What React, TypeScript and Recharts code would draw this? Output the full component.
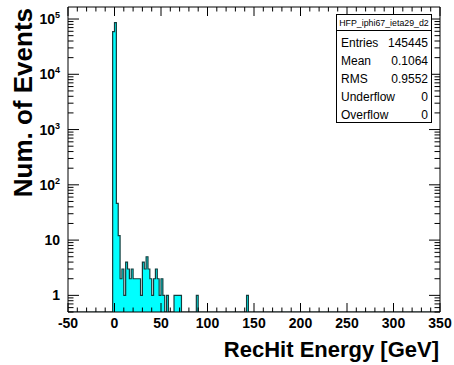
import React from 'react';
import { ComposedChart, Area, XAxis, YAxis } from 'recharts';

// histogram contents: low edge of each non-empty 2 GeV bin and its count
const binLow = [-2, 0, 2, 4, 6, 8, 10, 12, 14, 16, 18, 20, 22, 24, 26, 28, 30, 32, 34, 36, 38, 40, 42, 44, 46, 48, 50, 52, 56, 64, 66, 68, 70, 88, 142];
const counts = [59000, 86000, 46, 12, 2, 3, 1, 4, 3, 2, 3, 2, 2, 2, 2, 1, 4, 3, 5, 3, 2, 1, 2, 3, 2, 1, 2, 1, 1, 1, 1, 1, 1, 1, 1];
const binWidth = 2;
const xMin = -50;
const xMax = 350;
const yFloor = 0.5;
const yTop = 165000;

const xMajor = [-50, 0, 50, 100, 150, 200, 250, 300, 350];
const xMinorStep = 10;
const yDecades = [1, 10, 100, 1000, 10000, 100000];
const yExponents = ['', '', '2', '3', '4', '5'];

const statsTitle = 'HFP_iphi67_ieta29_d2';
const statsNames = ['Entries', 'Mean', 'RMS', 'Underflow', 'Overflow'];
const statsValues = ['145445', '0.1064', '0.9552', '0', '0'];

const font = '"Liberation Sans", Arial, sans-serif';

const histData: { x: number; n: number }[] = [];
for (let e = xMin; e < xMax; e += binWidth) {
  const k = binLow.indexOf(e);
  histData.push({ x: e, n: Math.max(k >= 0 ? counts[k] : 0, yFloor) });
}
histData.push({ x: xMax, n: yFloor });

const xTicks: number[] = [];
for (let v = xMin; v <= xMax; v += xMinorStep) xTicks.push(v);

const yTicks: number[] = [];
[0.1, ...yDecades].forEach((d) => {
  for (let m = 1; m < 10; m++) {
    const v = m * d;
    if (v >= yFloor && v <= yTop) yTicks.push(v);
  }
});

const isDecade = (v: number) => Math.abs(Math.log10(v) - Math.round(Math.log10(v))) < 1e-6;

const XTick = (props: any) => {
  const { x, y, payload, top } = props;
  const major = xMajor.includes(payload.value);
  const len = major ? 9 : 4.5;
  return (
    <g>
      <line x1={x} x2={x} y1={y} y2={top ? y + len : y - len} stroke="#000" />
      {!top && major && (
        <text x={x} y={y + 16} textAnchor="middle" fontFamily={font} fontWeight="bold" fontSize={14} fill="#000">
          {payload.value}
        </text>
      )}
    </g>
  );
};

const YTick = (props: any) => {
  const { x, y, payload, right } = props;
  const major = isDecade(payload.value);
  const len = major ? 11 : 5.5;
  const i = yDecades.indexOf(Math.round(payload.value));
  return (
    <g>
      <line x1={x} x2={right ? x - len : x + len} y1={y} y2={y} stroke="#000" />
      {!right && major && i >= 0 && (
        <text x={x - 8} y={y + 5} textAnchor="end" fontFamily={font} fontWeight="bold" fontSize={14} fill="#000">
          {yExponents[i] ? '10' : String(yDecades[i])}
          {yExponents[i] && (
            <tspan dy={-6} fontSize={9}>
              {yExponents[i]}
            </tspan>
          )}
        </text>
      )}
    </g>
  );
};

export default function App() {
  return (
    <div style={{ position: 'absolute', left: 0, top: 0, width: 454, height: 365, background: '#fff' }}>
      <ComposedChart width={454} height={365} data={histData} margin={{ top: 6, right: 13, bottom: 52, left: 67 }}>
        <XAxis
          dataKey="x"
          type="number"
          domain={[xMin, xMax]}
          ticks={xTicks}
          interval={0}
          height={1}
          tickSize={0}
          tickMargin={0}
          tickLine={false}
          axisLine={{ stroke: '#000' }}
          tick={(p: any) => <XTick {...p} />}
        />
        <XAxis
          xAxisId="t"
          orientation="top"
          dataKey="x"
          type="number"
          domain={[xMin, xMax]}
          ticks={xTicks}
          interval={0}
          height={1}
          tickSize={0}
          tickMargin={0}
          tickLine={false}
          axisLine={{ stroke: '#000' }}
          tick={(p: any) => <XTick {...p} top />}
        />
        <YAxis
          type="number"
          scale="log"
          domain={[yFloor, yTop]}
          allowDataOverflow
          ticks={yTicks}
          interval={0}
          width={1}
          tickSize={0}
          tickMargin={0}
          tickLine={false}
          axisLine={{ stroke: '#000' }}
          tick={(p: any) => <YTick {...p} />}
        />
        <YAxis
          yAxisId="r"
          orientation="right"
          type="number"
          scale="log"
          domain={[yFloor, yTop]}
          allowDataOverflow
          ticks={yTicks}
          interval={0}
          width={1}
          tickSize={0}
          tickMargin={0}
          tickLine={false}
          axisLine={{ stroke: '#000' }}
          tick={(p: any) => <YTick {...p} right />}
        />
        <Area
          dataKey="n"
          type="stepAfter"
          fill="#00ffff"
          fillOpacity={1}
          stroke="#143c3c"
          strokeWidth={1.2}
          isAnimationActive={false}
        />
      </ComposedChart>
      <svg width={454} height={365} style={{ position: 'absolute', left: 0, top: 0, pointerEvents: 'none' }}>
        <text
          transform="translate(32,8) rotate(-90)"
          textAnchor="end"
          fontFamily={font}
          fontWeight="bold"
          fontSize={26}
          fill="#000"
        >
          Num. of Events
        </text>
        <text x={439} y={357} textAnchor="end" fontFamily={font} fontWeight="bold" fontSize={22} fill="#000">
          RecHit Energy [GeV]
        </text>
        <rect x={336.5} y={14.5} width={95} height={108} fill="#fff" stroke="#000" />
        <line x1={336.5} x2={431.5} y1={30.5} y2={30.5} stroke="#000" />
        <text x={384} y={26} textAnchor="middle" fontFamily={font} fontSize={8.8} fill="#000">
          {statsTitle}
        </text>
        {statsNames.map((name, i) => (
          <g key={name}>
            <text x={341} y={47 + i * 18} fontFamily={font} fontSize={12} fill="#000">
              {name}
            </text>
            <text x={428} y={47 + i * 18} textAnchor="end" fontFamily={font} fontSize={12} fill="#000">
              {statsValues[i]}
            </text>
          </g>
        ))}
      </svg>
    </div>
  );
}
